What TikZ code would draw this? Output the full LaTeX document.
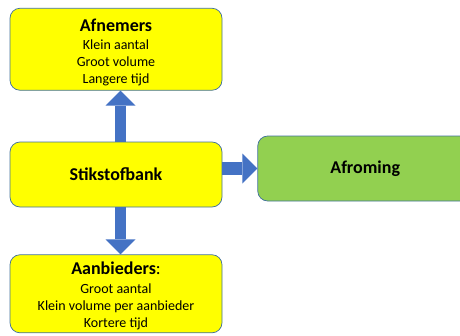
\documentclass[tikz,border=0pt]{standalone}
\usepackage{fontspec}
\setmainfont{Carlito}
\usetikzlibrary{positioning,arrows.meta}

\definecolor{geel}{HTML}{FFFF00}
\definecolor{groen}{HTML}{92D050}
\definecolor{rand}{HTML}{41719C}
\definecolor{pijlblauw}{HTML}{4472C4}

\newcommand{\kop}[1]{{\fontsize{18}{20}\selectfont #1}}

\begin{document}
\begin{tikzpicture}[
x=1pt, y=-1pt,
box/.style={
  draw=rand,
  line width=0.75pt,
  rounded corners=10pt,
  fill=geel,
  minimum width=212pt,
  align=center,
  font=\fontsize{14}{17}\selectfont
  },
blockarrow/.style={
  draw=pijlblauw,
  line width=11pt,
  -{Triangle[width=30pt,length=15pt,line width=0pt]}
  }
]

\useasboundingbox (0,0) rectangle (460,335);
\clip (0,0) rectangle (460,335);

\node[box, minimum height=65pt] (stik) at (116,174.5) {\kop{\textbf{Stikstofbank}}};
\node[box, minimum height=82pt, above=51pt of stik] (afn)
  {\kop{\rule{0pt}{19pt}\textbf{Afnemers}}\\[1pt] Klein aantal\\ Groot volume\\ Langere tijd};
\node[box, minimum height=78pt, below=47pt of stik] (aan)
  {\kop{\rule{0pt}{16pt}\textbf{Aanbieders}:}\\[2pt] Groot aantal\\ Klein volume per aanbieder\\ Kortere tijd};
\node[box, fill=groen, minimum width=215pt, minimum height=65pt,
  right=35pt of stik, yshift=6pt] (afrom) {\kop{\textbf{Afroming}}};

% pijlen
\foreach \n/\a/\b in {afn/north/south, aan/south/north}
  \draw[blockarrow] ([xshift=4.5pt]stik.\a) -- ([xshift=4.5pt]\n.\b);
\draw[blockarrow, line width=13pt] (stik.east |- afrom.west) -- (afrom.west);
\end{tikzpicture}
\end{document}
